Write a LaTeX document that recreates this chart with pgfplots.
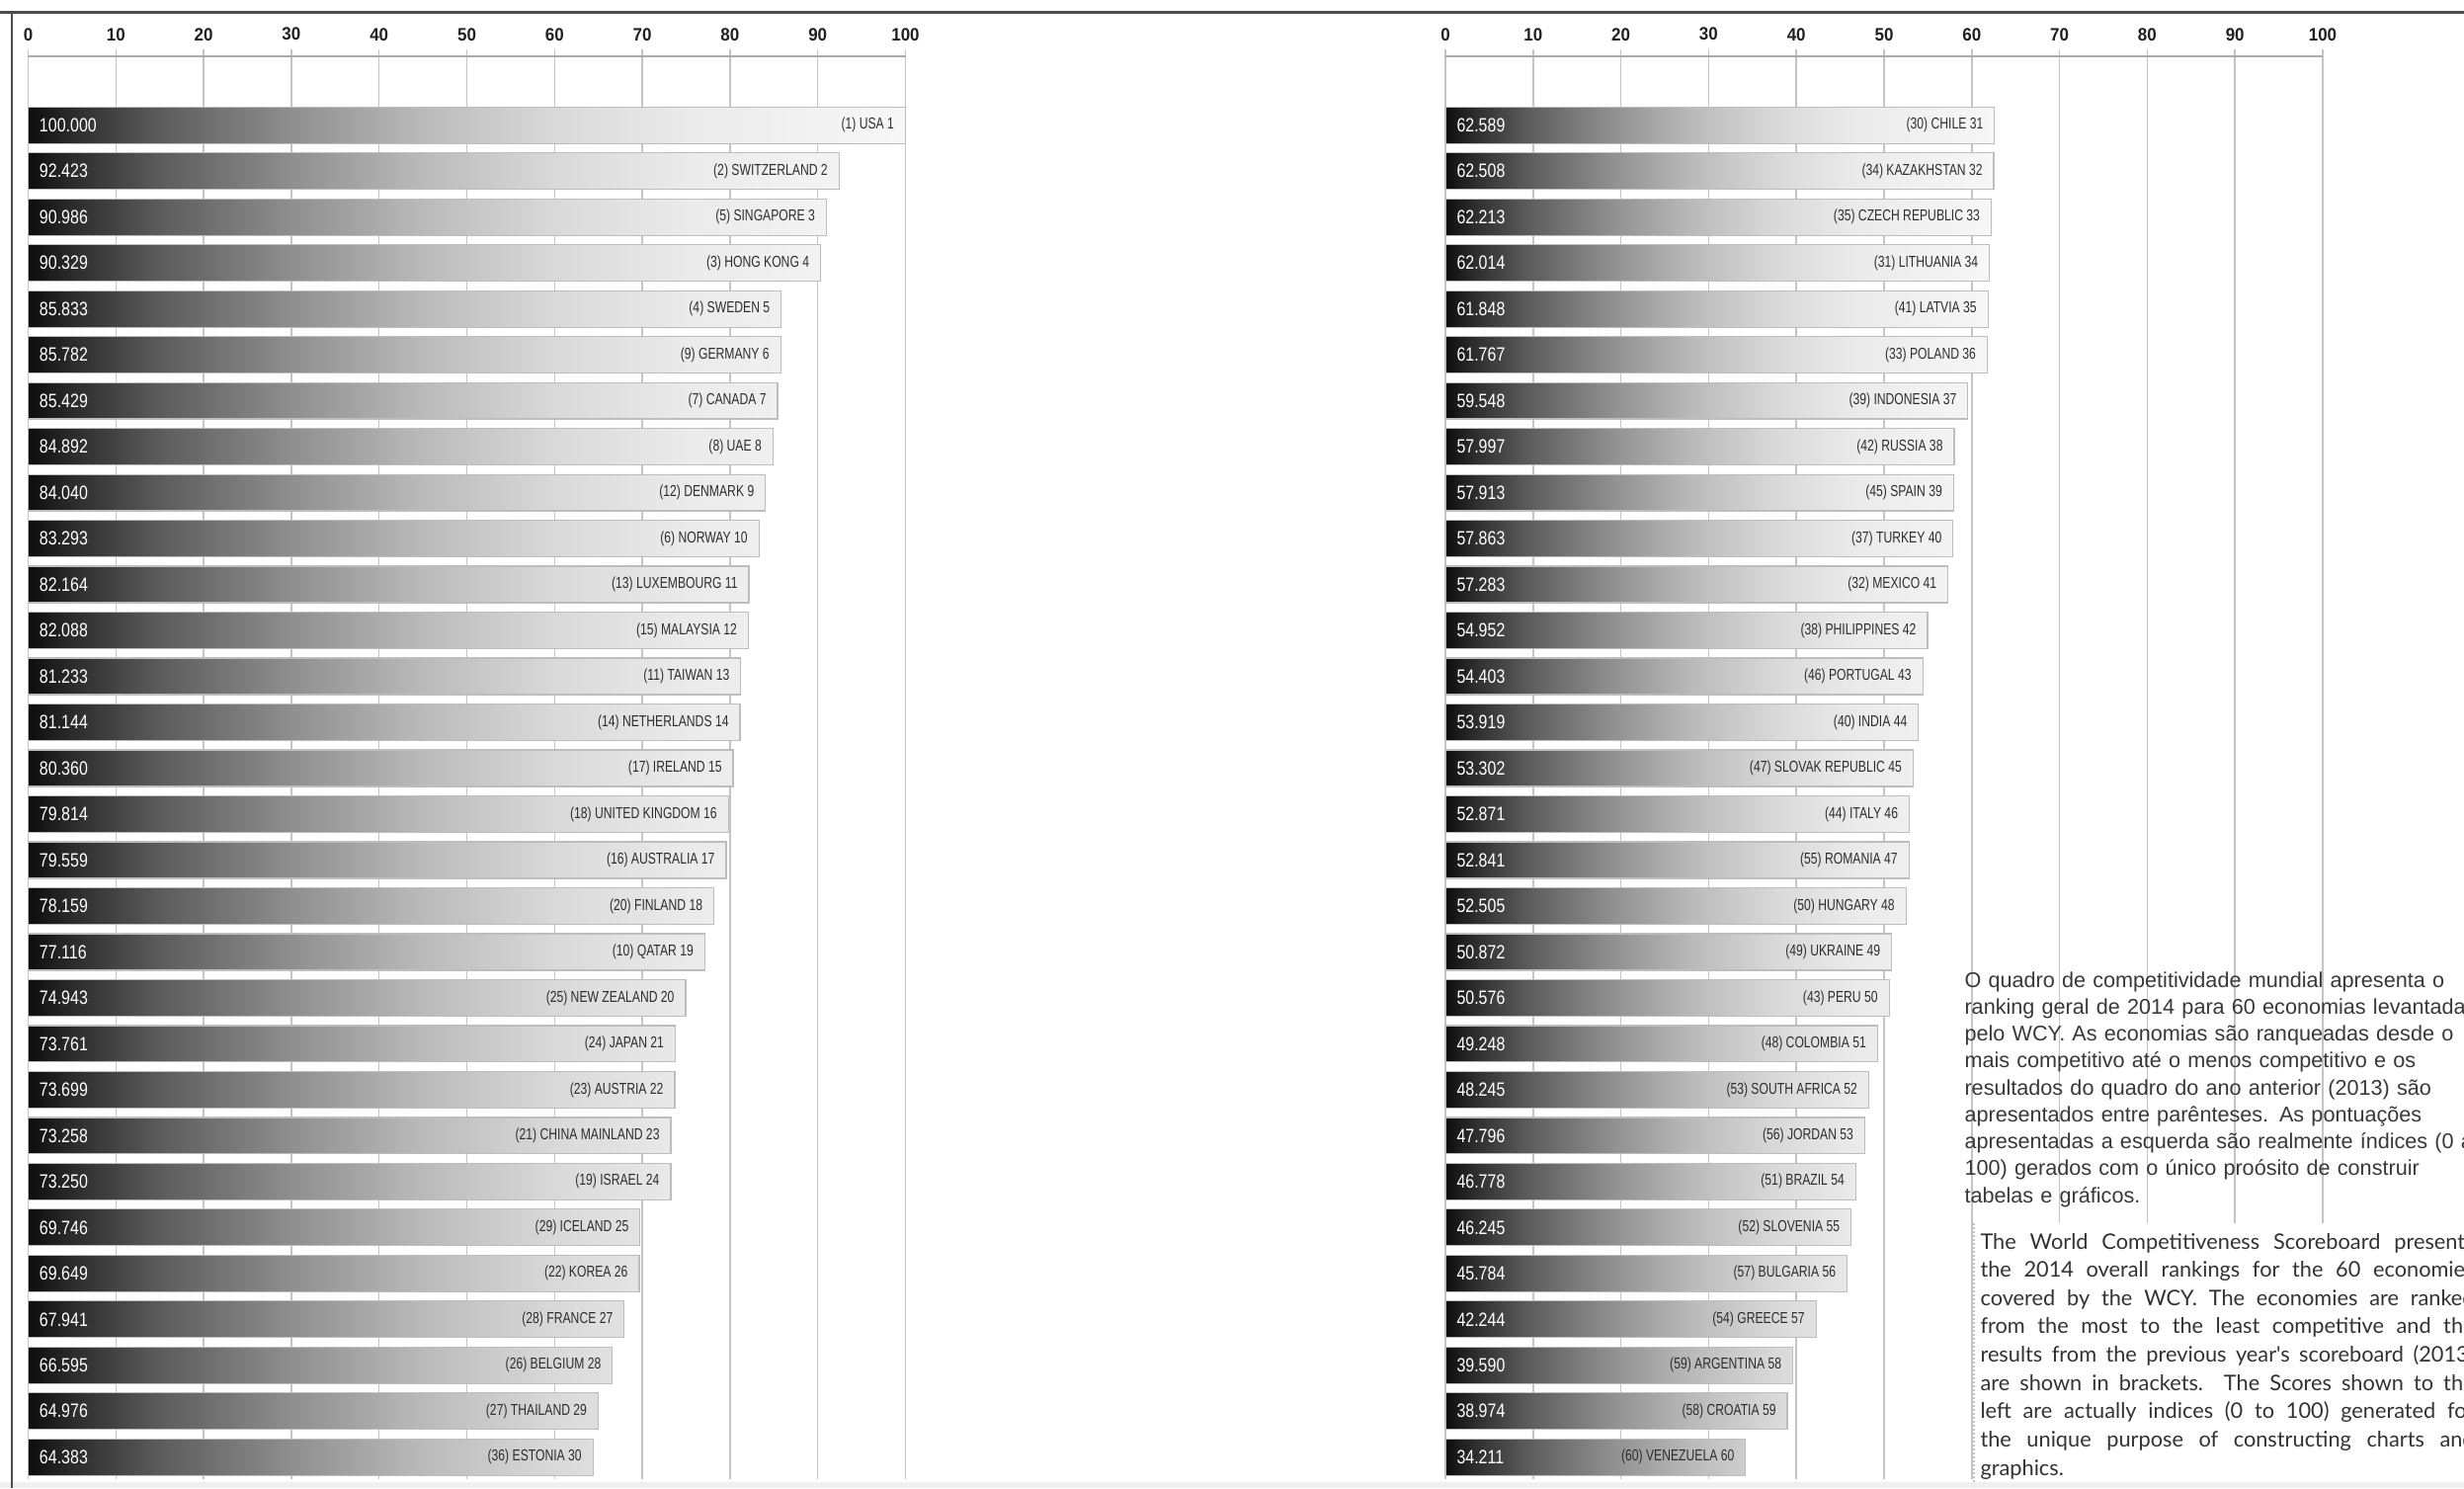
\documentclass[border=0pt]{standalone}
\usepackage{pgfplots}
\pgfplotsset{compat=1.18}
\usepackage{pgfplotstable}
\usepackage{fontspec}
\setmainfont{Liberation Sans}
\newfontfamily\narrowfont[FakeStretch=0.76]{Liberation Sans}
\newfontfamily\valfont[FakeStretch=0.82]{Liberation Sans}
\newfontfamily\tickfont[FakeStretch=0.93]{Liberation Sans}
\newfontfamily\gillfont{Lato}

\definecolor{gridc}{HTML}{C4C4C4}
\definecolor{axisc}{HTML}{ABABAB}
\definecolor{barline}{HTML}{BDBDBD}

\pgfdeclarehorizontalshading{barshade}{100bp}{%
 color(0bp)=(black!95); color(25bp)=(black!95); color(27.5bp)=(black!83);
 color(32.5bp)=(black!64); color(40bp)=(black!44); color(47.5bp)=(black!27);
 color(55bp)=(black!15); color(62.5bp)=(black!8); color(75bp)=(black!3);
 color(100bp)=(black!3)}

\pgfplotstableread[col sep=comma]{
pos,val,name
1,100.000,(1) USA 1
2,92.423,(2) SWITZERLAND 2
3,90.986,(5) SINGAPORE 3
4,90.329,(3) HONG KONG 4
5,85.833,(4) SWEDEN 5
6,85.782,(9) GERMANY 6
7,85.429,(7) CANADA 7
8,84.892,(8) UAE 8
9,84.040,(12) DENMARK 9
10,83.293,(6) NORWAY 10
11,82.164,(13) LUXEMBOURG 11
12,82.088,(15) MALAYSIA 12
13,81.233,(11) TAIWAN 13
14,81.144,(14) NETHERLANDS 14
15,80.360,(17) IRELAND 15
16,79.814,(18) UNITED KINGDOM 16
17,79.559,(16) AUSTRALIA 17
18,78.159,(20) FINLAND 18
19,77.116,(10) QATAR 19
20,74.943,(25) NEW ZEALAND 20
21,73.761,(24) JAPAN 21
22,73.699,(23) AUSTRIA 22
23,73.258,(21) CHINA MAINLAND 23
24,73.250,(19) ISRAEL 24
25,69.746,(29) ICELAND 25
26,69.649,(22) KOREA 26
27,67.941,(28) FRANCE 27
28,66.595,(26) BELGIUM 28
29,64.976,(27) THAILAND 29
30,64.383,(36) ESTONIA 30
}\lefttable

\pgfplotstableread[col sep=comma]{
pos,val,name
1,62.589,(30) CHILE 31
2,62.508,(34) KAZAKHSTAN 32
3,62.213,(35) CZECH REPUBLIC 33
4,62.014,(31) LITHUANIA 34
5,61.848,(41) LATVIA 35
6,61.767,(33) POLAND 36
7,59.548,(39) INDONESIA 37
8,57.997,(42) RUSSIA 38
9,57.913,(45) SPAIN 39
10,57.863,(37) TURKEY 40
11,57.283,(32) MEXICO 41
12,54.952,(38) PHILIPPINES 42
13,54.403,(46) PORTUGAL 43
14,53.919,(40) INDIA 44
15,53.302,(47) SLOVAK REPUBLIC 45
16,52.871,(44) ITALY 46
17,52.841,(55) ROMANIA 47
18,52.505,(50) HUNGARY 48
19,50.872,(49) UKRAINE 49
20,50.576,(43) PERU 50
21,49.248,(48) COLOMBIA 51
22,48.245,(53) SOUTH AFRICA 52
23,47.796,(56) JORDAN 53
24,46.778,(51) BRAZIL 54
25,46.245,(52) SLOVENIA 55
26,45.784,(57) BULGARIA 56
27,42.244,(54) GREECE 57
28,39.590,(59) ARGENTINA 58
29,38.974,(58) CROATIA 59
30,34.211,(60) VENEZUELA 60
}\righttable

\pgfplotsset{
  panel/.style={
    scale only axis, width=355.2pt, height=576pt,
    anchor=north west,
    xmin=0, xmax=100, ymin=-0.5, ymax=30.48, y dir=reverse,
    axis x line*=top, axis y line=none,
    xtick={0,10,...,100}, ytick=\empty,
    xmajorgrids=true,
    major grid style={draw=gridc, line width=0.6pt},
    axis line style={draw=axisc, line width=0.8pt},
    tick style={draw=gridc, line width=0.6pt},
    tick align=outside, major tick length=2.8pt,
    /pgf/number format/assume math mode=true,
    xticklabel style={font=\tickfont\bfseries\fontsize{7.3pt}{8pt}\selectfont, text=black!88},
    clip=false,
  },
  barplot/.style={xbar, bar width=0.795, draw=barline, line width=0.5pt, shade, shading=barshade},
  namelabels/.style={draw=none, mark=none, nodes near coords, point meta=explicit symbolic,
    every node near coord/.append style={anchor=east, xshift=-4.4pt, inner sep=0pt,
      font=\narrowfont\fontsize{6.4pt}{7pt}\selectfont, text=black!82}},
  vallabels/.style={draw=none, mark=none, nodes near coords, point meta=explicit symbolic,
    every node near coord/.append style={anchor=west, xshift=4.4pt, inner sep=0pt,
      font=\valfont\fontsize{7.8pt}{9pt}\selectfont, text=white}},
}

\begin{document}
\begin{tikzpicture}
\useasboundingbox (0,0) rectangle (997.6pt,-602.4pt);
\clip (0,0) rectangle (997.6pt,-602.4pt);

\begin{axis}[panel, at={(11.4pt,-22.8pt)}]
  \addplot[barplot] table[x=val, y=pos] {\lefttable};
  \addplot[namelabels] table[x=val, y=pos, meta=name] {\lefttable};
  \addplot[vallabels] table[x expr=0, y=pos, meta=val] {\lefttable};
\end{axis}

\begin{axis}[panel, at={(585.2pt,-22.8pt)}]
  \addplot[barplot] table[x=val, y=pos] {\righttable};
  \addplot[namelabels] table[x=val, y=pos, meta=name] {\righttable};
  \addplot[vallabels] table[x expr=0, y=pos, meta=val] {\righttable};
\end{axis}

% Portuguese note
\node[anchor=base west, inner sep=0pt, text width=400pt, align=left,
      font=\fontsize{8.65pt}{10.9pt}\selectfont, text=black!78] at (795.2pt,-399.6pt)
{O quadro de competitividade mundial apresenta o\\
ranking geral de 2014 para 60 economias levantadas\\
pelo WCY. As economias são ranqueadas desde o\\
mais competitivo até o menos competitivo e os\\
resultados do quadro do ano anterior (2013) são\\
apresentados entre parênteses. As pontuações\\
apresentadas a esquerda são realmente índices (0 a\\
100) gerados com o único proósito de construir\\
tabelas e gráficos.};

% English note on white panel
\fill[white] (799.2pt,-495.2pt) rectangle (1000pt,-602.4pt);
\draw[gridc, line width=0.6pt, densely dotted] (799.2pt,-495.2pt) -- (799.2pt,-602.4pt);
\node[anchor=base west, inner sep=0pt, text width=200pt, align=justify,
      font=\gillfont\fontsize{8.7pt}{11.45pt}\selectfont, text=black!80] at (801.6pt,-505.6pt)
{The World Competitiveness Scoreboard presents\linebreak
the 2014 overall rankings for the 60 economies\linebreak
covered by the WCY. The economies are ranked\linebreak
from the most to the least competitive and the\linebreak
results from the previous year's scoreboard (2013)\linebreak
are shown in brackets. The Scores shown to the\linebreak
left are actually indices (0 to 100) generated for\linebreak
the unique purpose of constructing charts and\linebreak
graphics.};

% frame
\fill[black!6] (0,-600pt) rectangle (997.6pt,-602.4pt);
\draw[black!70, line width=1.1pt] (0,-5.1pt) -- (997.6pt,-5.1pt);
\draw[black!70, line width=1pt] (4.8pt,-5.1pt) -- (4.8pt,-602.4pt);
\end{tikzpicture}
\end{document}
